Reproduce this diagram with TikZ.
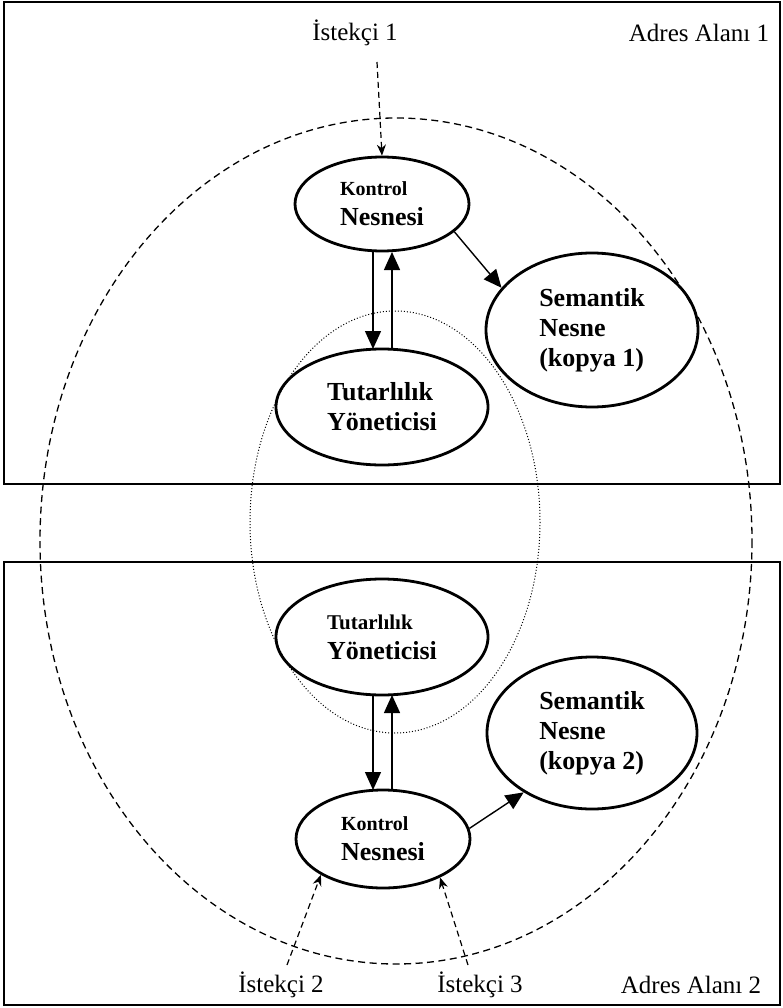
\documentclass[tikz,border=0pt]{standalone}
\usepackage{fontspec}
\setmainfont{Liberation Serif}
\usetikzlibrary{shapes.geometric,arrows.meta}
\begin{document}
\begin{tikzpicture}[x=1pt,y=-1pt,
  obj/.style={draw,ellipse,line width=2.8pt,inner sep=0pt,align=left,font=\fontsize{26}{30}\selectfont\bfseries},
  big/.style={-{Triangle[length=18pt,width=16pt]},line width=1.4pt},
  req/.style={-{Stealth[length=11pt,width=9pt]},dash pattern=on 6pt off 4pt,line width=1.2pt},
  lab/.style={font=\fontsize{25}{30}\selectfont}]
\useasboundingbox (0,0) rectangle (783,1008);
\draw[line width=2pt] (4,2) rectangle (780,484);
\draw[line width=2pt] (4,562) rectangle (780,1005);
\draw[dash pattern=on 7pt off 4.5pt,line width=1.3pt] (396,541) ellipse [x radius=356, y radius=423];
\draw[dotted,line width=1pt] (395,522) ellipse [x radius=145, y radius=211];
% top
\node[obj,minimum width=174pt,minimum height=94pt] (k1) at (382,204)
  {{\fontsize{20}{30}\selectfont Kontrol}\\Nesnesi};
\node[obj,minimum width=212pt,minimum height=116pt] (t1) at (382,407)
  {Tutarlılık\\Yöneticisi};
\node[obj,minimum width=212pt,minimum height=154pt] (s1) at (592,330)
  {Semantik\\Nesne\\(kopya 1)};
\node[lab] (i1) at (355,33) {İstekçi 1};
\node[lab] (a1) at (699,33) {Adres Alanı 1};
\coordinate (i1s) at (377,62);
\draw[req] (i1s) -- (k1.north);
\draw[big] (373,252) -- (373,349);
\draw[big] (392,349) -- (392,252);
\draw[big] (k1.-21) -- (s1.155);
% bottom
\node[obj,minimum width=212pt,minimum height=116pt] (t2) at (382,637)
  {{\fontsize{21}{30}\selectfont Tutarlılık}\\Yöneticisi};
\node[obj,minimum width=210pt,minimum height=152pt] (s2) at (592,733)
  {Semantik\\Nesne\\(kopya 2)};
\node[obj,minimum width=174pt,minimum height=98pt] (k2) at (383,839)
  {{\fontsize{20}{30}\selectfont Kontrol}\\Nesnesi};
\draw[big] (373,695) -- (373,790);
\draw[big] (392,790) -- (392,695);
\draw[big] (k2.7) -- (s2.-139);
\node[lab] (i2) at (281,985) {İstekçi 2};
\node[lab] (i3) at (480,985) {İstekçi 3};
\node[lab] (a2) at (691,985) {Adres Alanı 2};
\coordinate (i2s) at (287,965);
\coordinate (i3s) at (468,965);
\draw[req] (i2s) -- (k2.-150);
\draw[req] (i3s) -- (k2.-34);
\end{tikzpicture}
\end{document}
